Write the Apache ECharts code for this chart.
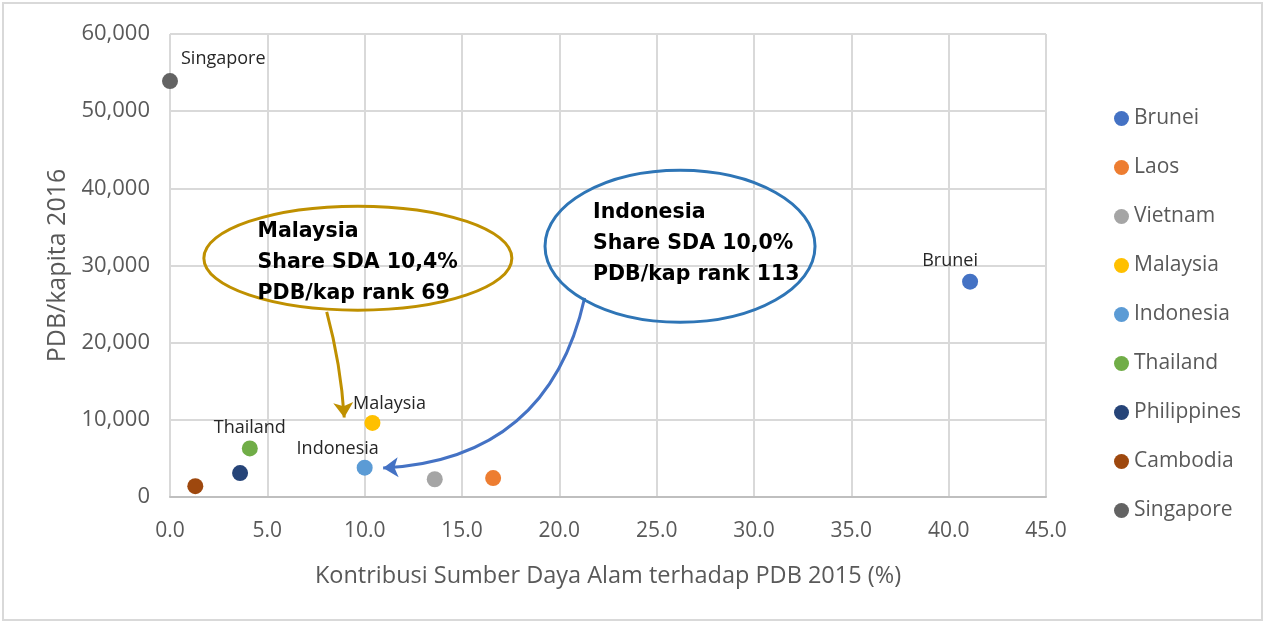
<!DOCTYPE html>
<html>
	<head>
		<meta charset="utf-8">
		<title>SDA vs PDB/kapita</title>
		<script src="https://cdn.jsdelivr.net/npm/echarts@6/dist/echarts.min.js"></script>
		<style>
			html, body { margin: 0; padding: 0; background: #fff; }
			#main { width: 1266px; height: 624px; }
		</style>
	</head>
	<body>
		<div id="main"></div>
		<script>
			// data
			var countries = ['Brunei', 'Laos', 'Vietnam', 'Malaysia', 'Indonesia', 'Thailand', 'Philippines', 'Cambodia', 'Singapore'];
			var shareSDA = [41.1, 16.6, 13.6, 10.4, 10.0, 4.1, 3.6, 1.3, 0.0];   // % of PDB 2015
			var pdbKapita = [27900, 2450, 2300, 9600, 3800, 6300, 3100, 1400, 53900];
			var colors = ['#4472C4', '#ED7D31', '#A5A5A5', '#FFC000', '#5B9BD5', '#70AD47', '#264478', '#9E480E', '#636363'];
			var labelled = ['Brunei', 'Malaysia', 'Indonesia', 'Thailand', 'Singapore'];
			var xTicks = [0, 5, 10, 15, 20, 25, 30, 35, 40, 45];
			var yTicks = [0, 10000, 20000, 30000, 40000, 50000, 60000];

			var font = 'Open Sans';
			var calloutFont = 'DejaVu Sans';

			// label placement per country
			var labelPos = {
				Singapore: { position: 'right', offset: [-2, -22] },
				Brunei: { position: 'top', offset: [-20, 1] },
				Malaysia: { position: 'top', offset: [17, 3] },
				Indonesia: { position: 'top', offset: [-27, 3] },
				Thailand: { position: 'top', offset: [0, 1] }
			};

			var series = [];
			for (var i = 0; i < countries.length; i++) {
				var name = countries[i];
				var lp = labelPos[name];
				series.push({
					name: name,
					type: 'scatter',
					symbolSize: 16,
					itemStyle: { color: colors[i], opacity: 1 },
					label: {
						show: labelled.indexOf(name) >= 0,
						formatter: name,
						position: lp ? lp.position : 'top',
						offset: lp ? lp.offset : [0, 0],
						color: '#262626',
						fontFamily: font,
						fontSize: 18
					},
					emphasis: { disabled: true },
					data: [[shareSDA[i], pdbKapita[i]]]
				});
			}

			// arrows from callouts to points, in data coordinates
			series.push({
				type: 'lines',
				coordinateSystem: 'cartesian2d',
				symbol: ['none', 'arrow'],
				symbolSize: 15,
				silent: true,
				z: 5,
				data: [{
					coords: [[8.05, 24000], [8.95, 10300]],
					lineStyle: { color: '#BF9000', width: 3, opacity: 1, curveness: 0.05 }
				}, {
					coords: [[21.3, 25800], [10.95, 3750]],
					lineStyle: { color: '#4472C4', width: 3, opacity: 1, curveness: 0.38 }
				}]
			});

			var chart = echarts.init(document.getElementById('main'));
			var option = {
				animation: false,
				textStyle: { fontFamily: font },
				grid: { left: 170, top: 34, width: 876, height: 463, containLabel: false },
				legend: {
					data: countries,
					orient: 'vertical',
					left: 1109,
					top: 103,
					icon: 'circle',
					itemWidth: 15,
					itemHeight: 15,
					itemGap: 28,
					textStyle: { color: '#595959', fontSize: 21, fontFamily: font }
				},
				xAxis: {
					type: 'value',
					min: 0,
					max: 45,
					interval: 5,
					name: 'Kontribusi Sumber Daya Alam terhadap PDB 2015 (%)',
					nameLocation: 'middle',
					nameGap: 67,
					nameTextStyle: { color: '#595959', fontSize: 23.5, fontFamily: font },
					axisLine: { show: true, lineStyle: { color: '#BFBFBF', width: 2 } },
					axisTick: { show: false },
					axisLabel: {
						color: '#595959', fontSize: 21, margin: 24,
						formatter: function(v) { return v.toFixed(1); }
					},
					splitLine: { show: true, lineStyle: { color: '#D9D9D9', width: 2 } }
				},
				yAxis: {
					type: 'value',
					min: 0,
					max: 60000,
					interval: 10000,
					name: 'PDB/kapita 2016',
					nameLocation: 'middle',
					nameGap: 99,
					nameTextStyle: { color: '#595959', fontSize: 25, fontFamily: font },
					axisLine: { show: false },
					axisTick: { show: false },
					axisLabel: {
						color: '#595959', fontSize: 22, margin: 20,
						formatter: function(v) { return v.toLocaleString('en-US'); }
					},
					splitLine: { show: true, lineStyle: { color: '#D9D9D9', width: 2 } }
				},
				series: series
			};
			chart.setOption(option);

			// callout ellipses and texts placed by data coordinates
			function px(p) { return chart.convertToPixel({ gridIndex: 0 }, p); }
			var cMal = px([9.65, 30950]);
			var cInd = px([26.2, 32500]);
			var tMal = px([4.5, 36400]);
			var tInd = px([21.73, 38850]);
			chart.setOption({
				graphic: [{
					type: 'rect',
					shape: { x: 3, y: 3, width: 1259, height: 617 },
					style: { fill: 'none', stroke: '#D9D9D9', lineWidth: 2 },
					silent: true
				}, {
					type: 'ellipse',
					shape: { cx: cMal[0], cy: cMal[1], rx: 154, ry: 52 },
					style: { fill: 'rgba(255,255,255,0)', stroke: '#BF9000', lineWidth: 3 },
					z: 10
				}, {
					type: 'ellipse',
					shape: { cx: cInd[0], cy: cInd[1], rx: 135, ry: 76 },
					style: { fill: 'rgba(255,255,255,0)', stroke: '#2E75B6', lineWidth: 3 },
					z: 10
				}, {
					type: 'text',
					x: tMal[0], y: tMal[1],
					style: {
						text: 'Malaysia\nShare SDA 10,4%\nPDB/kap rank 69',
						font: 'bold 20.5px ' + calloutFont,
						lineHeight: 31,
						fill: '#000'
					},
					z: 11
				}, {
					type: 'text',
					x: tInd[0], y: tInd[1],
					style: {
						text: 'Indonesia\nShare SDA 10,0%\nPDB/kap rank 113',
						font: 'bold 20.5px ' + calloutFont,
						lineHeight: 31,
						fill: '#000'
					},
					z: 11
				}]
			});
		</script>
	</body>
</html>
